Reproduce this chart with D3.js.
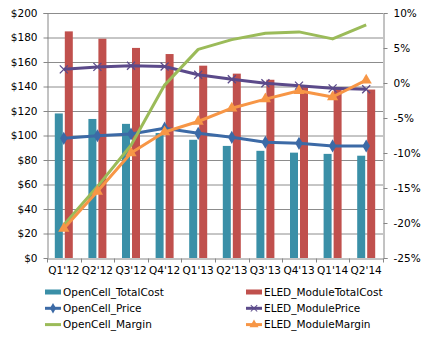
<!DOCTYPE html>
<html><head><meta charset="utf-8">
<script src="https://cdn.jsdelivr.net/npm/d3@7"></script>
<style>body{margin:0;background:#fff}svg{display:block}text{font-family:"DejaVu Sans",Verdana,sans-serif;font-size:10.5px;fill:#000}</style>
</head><body><svg id="c" width="436" height="339"></svg>
<script>
const categories = ["Q1'12","Q2'12","Q3'12","Q4'12","Q1'13","Q2'13","Q3'13","Q4'13","Q1'14","Q2'14"];
const openCellTotalCost = [118,113.5,109.5,102,96.5,91.5,87.5,86,85,83.5];
const eledModuleTotalCost = [185,179,171.5,166.5,157,150.5,145.5,141,139,137.5];
const openCellPrice = [97.7,99.8,101.2,106,101.8,98.5,94.5,93.6,91.5,91.4];
const eledModulePrice = [154,156,157,156.3,149.6,145.9,142.6,140.7,138.5,137.7];
const openCellMargin = [-20.3,-14.8,-8.9,-0.3,4.8,6.2,7.1,7.3,6.3,8.3];
const eledModuleMargin = [-20.8,-15.5,-10,-7,-5.5,-3.6,-2.3,-1.1,-2,0.4];
const leftTicks = [0,20,40,60,80,100,120,140,160,180,200];
const rightTicks = [-25,-20,-15,-10,-5,0,5,10];

const svg = d3.select("#c");
const L=47,R=383,T=13,B=258;
const x = d3.scaleBand().domain(categories).range([L,R]);
const yL = d3.scaleLinear().domain([0,200]).range([B,T]);
const yR = d3.scaleLinear().domain([-25,10]).range([B,T]);
const cx = c => x(c)+x.bandwidth()/2;
const axisCol="#868686";

// gridlines
svg.append("g").selectAll("line").data(leftTicks.filter(d=>d>0)).join("line")
  .attr("x1",L).attr("x2",R).attr("y1",d=>yL(d)+0.5).attr("y2",d=>yL(d)+0.5)
  .attr("stroke","#8c8c8c").attr("stroke-width",1);

// bars
const bw=8;
svg.append("g").selectAll("rect").data(categories).join("rect")
  .attr("x",c=>cx(c)-9).attr("width",bw)
  .attr("y",(c,i)=>yL(openCellTotalCost[i])).attr("height",(c,i)=>B-yL(openCellTotalCost[i]))
  .attr("fill","#3a8fa7");
svg.append("g").selectAll("rect").data(categories).join("rect")
  .attr("x",c=>cx(c)+1).attr("width",bw)
  .attr("y",(c,i)=>yL(eledModuleTotalCost[i])).attr("height",(c,i)=>B-yL(eledModuleTotalCost[i]))
  .attr("fill","#c0504d");

// axes
const gL = svg.append("g").attr("transform",`translate(${L+0.5},0)`)
  .call(d3.axisLeft(yL).tickValues(leftTicks).tickSize(4).tickPadding(6).tickFormat(d=>"$"+d));
const gR = svg.append("g").attr("transform",`translate(${R+0.5},0)`)
  .call(d3.axisRight(yR).tickValues(rightTicks).tickSize(4).tickPadding(6).tickFormat(d=>d+"%"));
const gB = svg.append("g").attr("transform",`translate(0,${B+0.5})`)
  .call(d3.axisBottom(x).tickSize(0).tickPadding(8));
[gL,gR,gB].forEach(g=>{g.select(".domain").attr("stroke",axisCol);g.selectAll(".tick line").attr("stroke",axisCol);g.selectAll("text").attr("font-family",null).attr("font-size",null).attr("fill","#000");});
gL.selectAll(".tick").filter(d=>d===0).select("line").remove();
gB.selectAll(".sep").data(d3.range(categories.length+1)).join("line").attr("class","sep")
  .attr("x1",i=>Math.round(L+i*x.bandwidth())+0.5).attr("x2",i=>Math.round(L+i*x.bandwidth())+0.5)
  .attr("y1",0).attr("y2",4).attr("stroke",axisCol);

// lines
function drawLine(vals, scale, color, marker){
  const line = d3.line().x((d,i)=>cx(categories[i])).y(d=>scale(d));
  const g = svg.append("g");
  g.append("path").datum(vals).attr("d",line).attr("fill","none").attr("stroke",color).attr("stroke-width",3).attr("stroke-linejoin","round");
  if(marker){
    g.selectAll("path.m").data(vals).join("path").attr("class","m")
      .attr("transform",(d,i)=>`translate(${cx(categories[i])},${scale(d)})`)
      .attr("d",marker.d).attr("fill",marker.fill||color).attr("stroke",marker.stroke||"none").attr("stroke-width",marker.sw||0);
  }
}
const diamond = {d:d3.symbol(d3.symbolDiamond,50)()};
const cross = {d:"M-4,-4L4,4M-4,4L4,-4",fill:"none",stroke:"#5b4a8a",sw:1.3};
const tri = {d:d3.symbol(d3.symbolTriangle,55)()};
drawLine(openCellPrice,yL,"#3c6aa6",diamond);
drawLine(eledModulePrice,yL,"#5b4a8a",cross);
drawLine(openCellMargin,yR,"#9bbb59",null);
drawLine(eledModuleMargin,yR,"#f79646",tri);

// legend
const legend = [
  {name:"OpenCell_TotalCost",type:"bar",color:"#3a8fa7"},
  {name:"ELED_ModuleTotalCost",type:"bar",color:"#c0504d"},
  {name:"OpenCell_Price",type:"line",color:"#3c6aa6",m:diamond},
  {name:"ELED_ModulePrice",type:"line",color:"#5b4a8a",m:cross},
  {name:"OpenCell_Margin",type:"line",color:"#9bbb59",m:null},
  {name:"ELED_ModuleMargin",type:"line",color:"#f79646",m:tri}
];
const lg = svg.append("g").selectAll("g").data(legend).join("g")
  .attr("transform",(d,i)=>`translate(${i%2===0?45:246},${292+Math.floor(i/2)*16.3})`);
lg.each(function(d){
  const g=d3.select(this);
  if(d.type==="bar"){g.append("rect").attr("x",0).attr("y",-2.5).attr("width",16).attr("height",5).attr("fill",d.color);}
  else{
    g.append("line").attr("x1",0).attr("x2",16).attr("y1",0).attr("y2",0).attr("stroke",d.color).attr("stroke-width",3);
    if(d.m){g.append("path").attr("transform","translate(8,0) scale(0.8)").attr("d",d.m.d).attr("fill",d.m.fill||d.color).attr("stroke",d.m.stroke||"none").attr("stroke-width",d.m.sw||0);}
  }
  g.append("text").attr("x",18).attr("y",3.8).text(d.name);
});
</script></body></html>
